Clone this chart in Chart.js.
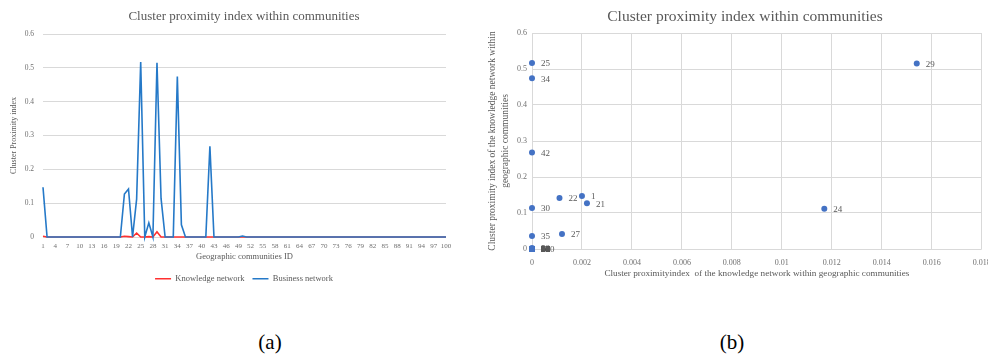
<!DOCTYPE html>
<html>
<head>
<meta charset="utf-8">
<script src="https://cdn.jsdelivr.net/npm/chart.js@4.4.1/dist/chart.umd.min.js"></script>
<style>
  html, body { margin: 0; padding: 0; background: #fff; overflow: hidden; }
  body { width: 988px; height: 358px; position: relative; font-family: 'Liberation Serif', serif; }
  #lineChart { position: absolute; left: 0; top: 0; }
  #scatterChart { position: absolute; left: 480px; top: 0; }
  .caption { position: absolute; top: 330px; width: 60px; line-height: 24px; font-size: 21px; color: #000; text-align: center; }
</style>
</head>
<body>
<canvas id="lineChart" width="488" height="293"></canvas>
<canvas id="scatterChart" width="530" height="281"></canvas>
<div class="caption" style="left:240px">(a)</div>
<div class="caption" style="left:702px">(b)</div>
<script>
// Geographic communities 1..100
const communityIds = [
  1, 2, 3, 4, 5, 6, 7, 8, 9, 10,
  11, 12, 13, 14, 15, 16, 17, 18, 19, 20,
  21, 22, 23, 24, 25, 26, 27, 28, 29, 30,
  31, 32, 33, 34, 35, 36, 37, 38, 39, 40,
  41, 42, 43, 44, 45, 46, 47, 48, 49, 50,
  51, 52, 53, 54, 55, 56, 57, 58, 59, 60,
  61, 62, 63, 64, 65, 66, 67, 68, 69, 70,
  71, 72, 73, 74, 75, 76, 77, 78, 79, 80,
  81, 82, 83, 84, 85, 86, 87, 88, 89, 90,
  91, 92, 93, 94, 95, 96, 97, 98, 99, 100
];

// Cluster proximity index - knowledge network
const knowledgeIndex = [
  0.0020, 0, 0, 0, 0, 0, 0, 0, 0, 0,
  0, 0, 0, 0, 0, 0, 0, 0, 0, 0,
  0.0022, 0.0011, 0, 0.0117, 0, 0, 0.0012, 0, 0.0154, 0,
  0, 0, 0, 0, 0, 0, 0, 0, 0, 0,
  0, 0, 0, 0, 0, 0, 0, 0, 0, 0,
  0, 0, 0, 0, 0, 0, 0, 0, 0, 0,
  0, 0, 0, 0, 0, 0, 0, 0, 0, 0,
  0, 0, 0, 0, 0, 0, 0, 0, 0, 0,
  0, 0, 0, 0, 0, 0, 0, 0, 0, 0,
  0, 0, 0, 0, 0, 0, 0, 0, 0, 0
];

// Cluster proximity index - business network
const businessIndex = [
  0.147, 0, 0, 0, 0, 0, 0, 0, 0, 0,
  0, 0, 0, 0, 0, 0, 0, 0, 0, 0,
  0.127, 0.142, 0, 0.112, 0.517, 0, 0.042, 0, 0.515, 0.114,
  0, 0, 0, 0.474, 0.036, 0, 0, 0, 0, 0,
  0, 0.268, 0, 0, 0, 0, 0, 0, 0, 0.003,
  0, 0, 0, 0, 0, 0, 0, 0, 0, 0,
  0, 0, 0, 0, 0, 0, 0, 0, 0, 0,
  0, 0, 0, 0, 0, 0, 0, 0, 0, 0,
  0, 0, 0, 0, 0, 0, 0, 0, 0, 0,
  0, 0, 0, 0, 0, 0, 0, 0, 0, 0
];

const yTicks = [0, 0.1, 0.2, 0.3, 0.4, 0.5, 0.6];
const xTicksScatter = [0, 0.002, 0.004, 0.006, 0.008, 0.01, 0.012, 0.014, 0.016, 0.018];

Chart.defaults.font.family = "'Liberation Serif', 'Times New Roman', serif";
Chart.defaults.color = '#595959';

const gridColor = '#d9d9d9';
const tickColor = '#707070';

function shortNum(v) {
  return String(+(+v).toFixed(4));
}

// (a) line chart
new Chart(document.getElementById('lineChart'), {
  type: 'line',
  data: {
    labels: communityIds.map(String),
    datasets: [{
      label: 'Knowledge network',
      data: knowledgeIndex,
      borderColor: '#ff3030',
      backgroundColor: '#ff3030',
      borderWidth: 1.6,
      pointRadius: 0,
      tension: 0,
      clip: false,
      order: 1
    }, {
      label: 'Business network',
      data: businessIndex,
      borderColor: '#2579c8',
      backgroundColor: '#2579c8',
      borderWidth: 1.6,
      pointRadius: 0,
      tension: 0,
      clip: false,
      order: 0
    }]
  },
  options: {
    responsive: false,
    animation: false,
    layout: { padding: 0 },
    plugins: {
      title: {
        display: true,
        text: 'Cluster proximity index within communities',
        font: { size: 13, weight: 'normal' },
        color: '#595959',
        padding: { top: 9.2, bottom: 9.2 }
      },
      legend: {
        position: 'bottom',
        labels: {
          usePointStyle: true,
          pointStyle: 'line',
          pointStyleWidth: 16,
          padding: 8,
          font: { size: 8.5 },
          color: '#595959',
          sort: (a, b) => a.datasetIndex - b.datasetIndex
        }
      },
      tooltip: { enabled: false }
    },
    scales: {
      x: {
        offset: false,
        grid: { display: false, drawTicks: false },
        border: { display: false },
        ticks: {
          autoSkip: false,
          maxRotation: 0,
          padding: 5,
          font: { size: 7 },
          color: tickColor,
          callback: function(value, index) {
            return index % 3 === 0 ? String(communityIds[index]) : '';
          }
        },
        title: {
          display: true,
          text: 'Geographic communities ID',
          font: { size: 8.5 },
          color: '#595959',
          padding: { top: 0, bottom: 4.4 }
        },
        afterFit: function(scale) { scale.height = 29.5; }
      },
      y: {
        min: 0,
        max: 0.6,
        afterBuildTicks: function(scale) { scale.ticks = yTicks.map(v => ({ value: v })); },
        grid: { color: gridColor, drawTicks: false },
        border: { display: false },
        ticks: { padding: 9, font: { size: 7.5 }, color: tickColor, callback: shortNum },
        title: {
          display: true,
          text: 'Cluster Proximity index',
          font: { size: 8 },
          color: '#595959',
          padding: { top: 9.2, bottom: 0 }
        },
        afterFit: function(scale) { scale.width = 43; }
      },
      y2: {
        position: 'right',
        grid: { display: false, drawTicks: false },
        border: { display: false },
        ticks: { display: false },
        afterFit: function(scale) { scale.width = 42; }
      }
    }
  }
});

// (b) scatter chart
const pointLabels = {
  id: 'pointLabels',
  afterDatasetsDraw(chart) {
    const ctx = chart.ctx;
    const meta = chart.getDatasetMeta(0);
    ctx.save();
    ctx.font = "9px 'Liberation Serif', serif";
    ctx.fillStyle = '#595959';
    ctx.textBaseline = 'middle';
    ctx.textAlign = 'left';
    meta.data.forEach(function(pt, i) {
      ctx.fillText(String(communityIds[i]), pt.x + 9, pt.y + 1);
    });
    ctx.restore();
  }
};

new Chart(document.getElementById('scatterChart'), {
  type: 'scatter',
  data: {
    datasets: [{
      label: 'Communities',
      data: communityIds.map((id, i) => ({ x: knowledgeIndex[i], y: businessIndex[i] })),
      backgroundColor: '#4472c4',
      borderWidth: 0,
      pointRadius: 3,
      clip: false
    }]
  },
  plugins: [pointLabels],
  options: {
    responsive: false,
    animation: false,
    layout: { padding: 0 },
    plugins: {
      title: {
        display: true,
        text: 'Cluster proximity index within communities',
        font: { size: 15.5, weight: 'normal' },
        color: '#595959',
        padding: { top: 7.7, bottom: 6.7 }
      },
      legend: { display: false },
      tooltip: { enabled: false }
    },
    scales: {
      x: {
        type: 'linear',
        min: 0,
        max: 0.018,
        afterBuildTicks: function(scale) { scale.ticks = xTicksScatter.map(v => ({ value: v })); },
        grid: { color: gridColor, drawTicks: false },
        border: { display: false },
        ticks: { padding: 9, font: { size: 8 }, color: tickColor, callback: shortNum },
        title: {
          display: true,
          text: 'Cluster proximityindex  of the knowledge network within geographic communities',
          font: { size: 9.2 },
          color: '#595959',
          padding: { top: 0, bottom: 1.5 }
        },
        afterFit: function(scale) { scale.height = 32; }
      },
      y: {
        min: 0,
        max: 0.6,
        afterBuildTicks: function(scale) { scale.ticks = yTicks.map(v => ({ value: v })); },
        grid: { color: gridColor, drawTicks: false },
        border: { display: false },
        ticks: { padding: 5, font: { size: 8 }, color: tickColor, callback: shortNum },
        title: {
          display: true,
          text: ['Cluster proximity index of the knowledge network within', 'geographic communities'],
          font: { size: 9.5, lineHeight: 1.37 },
          color: '#595959',
          padding: { top: 5.5, bottom: 0 }
        },
        afterFit: function(scale) { scale.width = 52; }
      },
      y2: {
        position: 'right',
        grid: { display: false, drawTicks: false },
        border: { display: false },
        ticks: { display: false },
        afterFit: function(scale) { scale.width = 28.3; }
      }
    }
  }
});
</script>
</body>
</html>
